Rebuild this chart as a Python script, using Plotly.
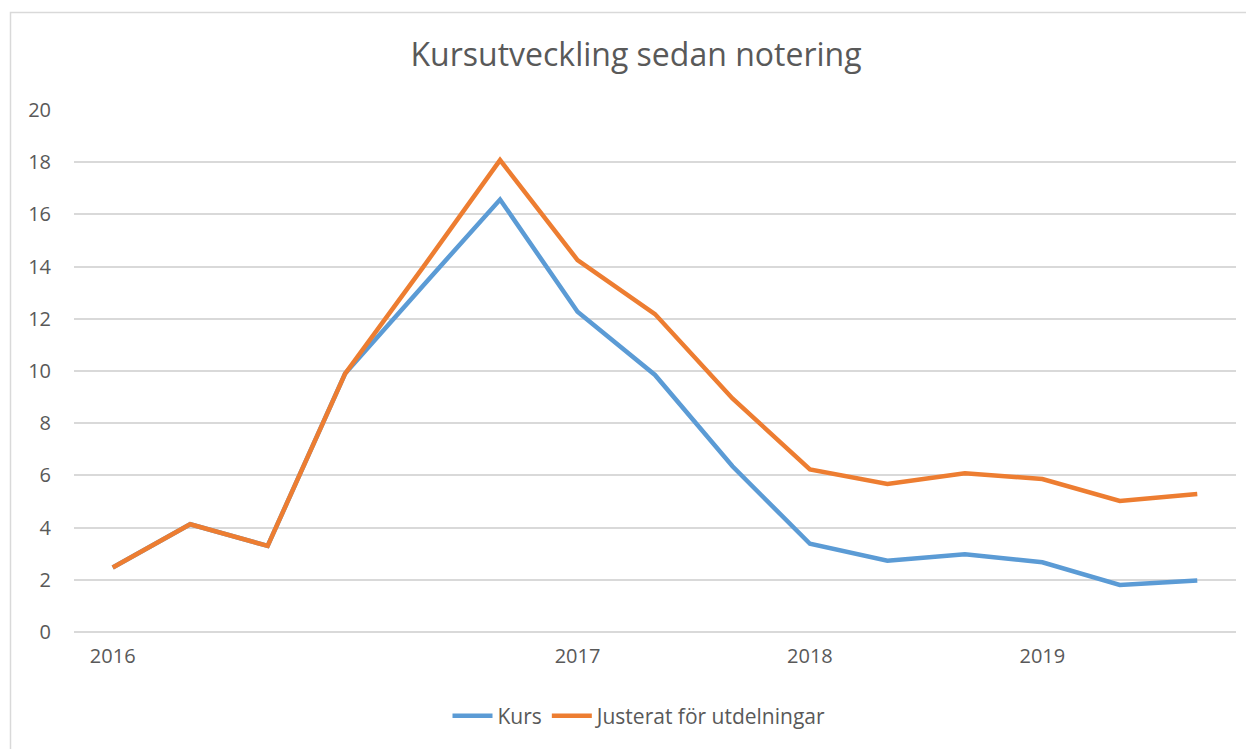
import plotly.graph_objects as go

# Data
periods = list(range(15))
tick_positions = [0, 6, 9, 12]
tick_labels = ["2016", "2017", "2018", "2019"]
kurs = [2.47, 4.13, 3.3, 9.9, 13.25, 16.57, 12.27, 9.85, 6.35, 3.38, 2.73, 2.98, 2.67, 1.8, 1.97]
justerat = [2.47, 4.13, 3.3, 9.9, 13.95, 18.08, 14.25, 12.18, 8.95, 6.23, 5.67, 6.08, 5.86, 5.02, 5.29]

FONT = "Open Sans"
TXT = "#595959"
GRID = "#D9D9D9"

OFF = 8  # default page body margin
W, H = 1254 - OFF, 749 - OFF
L = 74 - OFF
T = 110 - OFF
R = (1254 - 1236)
B = (749 - 632)
pw, ph = W - L - R, H - T - B

def px_x(p):
    return (p - OFF - L) / pw

def px_y(p):
    return (H - B - (p - OFF)) / ph

fig = go.Figure()
fig.add_trace(go.Scatter(x=periods, y=kurs, mode="lines", name="Kurs",
                         line=dict(color="#5B9BD5", width=4.5)))
fig.add_trace(go.Scatter(x=periods, y=justerat, mode="lines", name="Justerat för utdelningar",
                         line=dict(color="#ED7D31", width=4.5)))

fig.update_layout(
    width=W, height=H,
    margin=dict(l=L, r=R, t=T, b=B, autoexpand=False),
    paper_bgcolor="white", plot_bgcolor="white",
    font=dict(family=FONT, color=TXT, size=20),
    title=dict(text="Kursutveckling sedan notering", x=(636 - OFF) / W, xanchor="center",
               y=1 - (55 - OFF) / H, yanchor="middle", yref="container",
               font=dict(family=FONT, size=32, color=TXT)),
    xaxis=dict(range=[-0.5, 14.5], tickvals=tick_positions, ticktext=tick_labels,
               showgrid=False, zeroline=False, showline=False, ticks="",
               ticklabelstandoff=10, tickfont=dict(size=20, color=TXT)),
    yaxis=dict(range=[0, 20], dtick=2, showgrid=True, gridcolor=GRID, gridwidth=1.5,
               zeroline=True, zerolinecolor=GRID, zerolinewidth=1.5, showline=False,
               ticks="", ticklabelstandoff=22, tickfont=dict(size=20, color=TXT)),
    legend=dict(orientation="h", x=px_x(640), xref="paper", xanchor="center",
                y=px_y(716), yanchor="middle", font=dict(size=21, color=TXT),
                itemwidth=40, bgcolor="rgba(0,0,0,0)"),
    shapes=[dict(type="rect", xref="paper", yref="paper",
                 x0=px_x(10.5), x1=px_x(1275), y0=px_y(775), y1=px_y(12.5),
                 line=dict(color="#D9D9D9", width=1.5), fillcolor="rgba(0,0,0,0)",
                 layer="below")],
)

fig.write_html("out.html")
